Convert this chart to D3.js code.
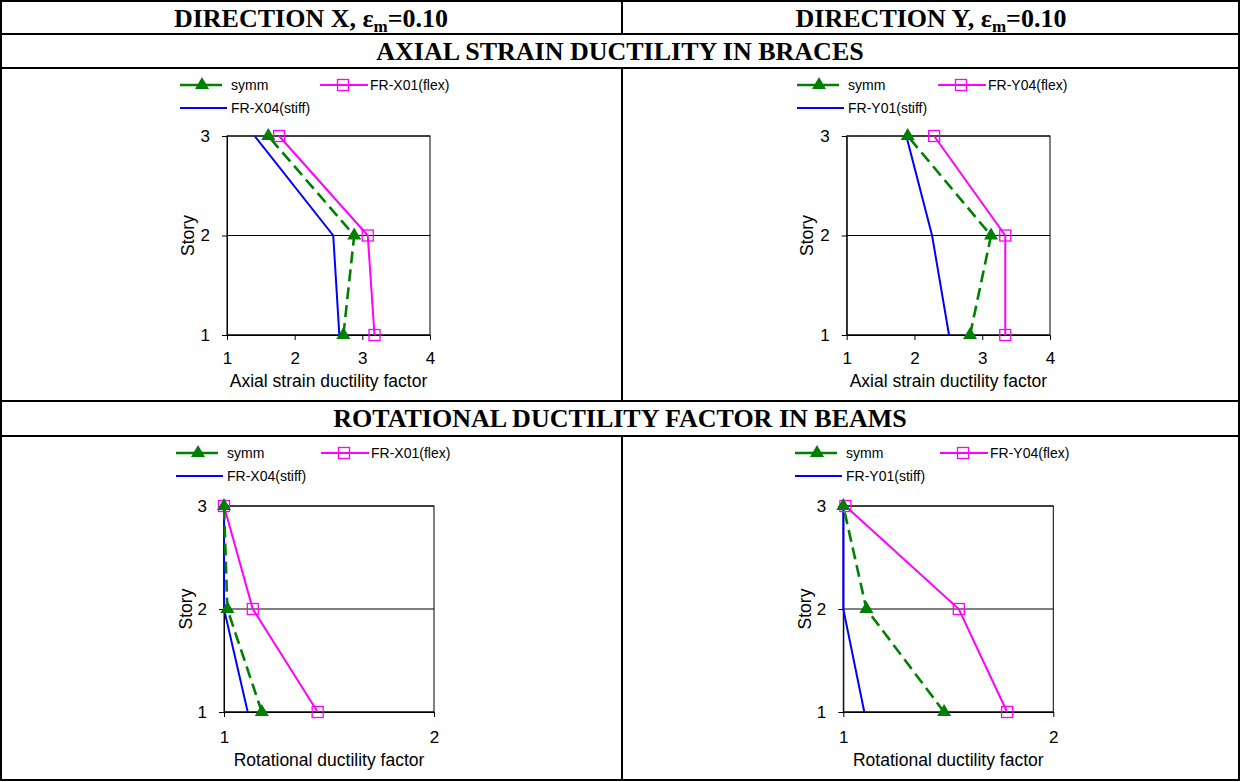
<!DOCTYPE html>
<html>
<head>
<meta charset="utf-8">
<script src="https://cdn.jsdelivr.net/npm/d3@7"></script>
<style>
  html, body { margin: 0; padding: 0; background: #fff; }
  svg { display: block; }
</style>
</head>
<body>
<svg id="chart" width="1241" height="782"></svg>
<script>
// ---------------- DATA ----------------
const stories = [1, 2, 3];
const storyTicks = [1, 2, 3];
const axialTicks = [1, 2, 3, 4];
const rotTicks = [1, 2];

const headerLeft = ["DIRECTION X, ε", "m", "=0.10"];
const headerRight = ["DIRECTION Y, ε", "m", "=0.10"];
const sectionTitles = ["AXIAL STRAIN DUCTILITY IN BRACES", "ROTATIONAL DUCTILITY FACTOR IN BEAMS"];
const xTitles = ["Axial strain ductility factor", "Rotational ductility factor"];
const yTitle = "Story";

const namesX = ["symm", "FR-X01(flex)", "FR-X04(stiff)"];
const namesY = ["symm", "FR-Y04(flex)", "FR-Y01(stiff)"];

// values for stories 1, 2, 3
const symmAxialX  = [2.72, 2.88, 1.61];
const flexAxialX  = [3.18, 3.08, 1.77];
const stiffAxialX = [2.66, 2.57, 1.41];

const symmAxialY  = [2.82, 3.13, 1.90];
const flexAxialY  = [3.34, 3.34, 2.29];
const stiffAxialY = [2.51, 2.26, 1.88];

const symmRotX  = [1.18, 1.016, 1.0];
const flexRotX  = [1.446, 1.137, 1.0];
const stiffRotX = [1.113, 1.0, 1.0];

const symmRotY  = [1.48, 1.11, 1.0];
const flexRotY  = [1.78, 1.55, 1.01];
const stiffRotY = [1.10, 1.0, 1.0];

// ---------------- LAYOUT ----------------
const svg = d3.select("#chart");
const colors = { symm: "#008000", flex: "#ff00ff", stiff: "#0000ff" };

const table = { left: 1, right: 1239, top: 1, bottom: 780, mid: 622,
  rows: [34, 68, 401, 436] };

// Table borders
const tg = svg.append("g").attr("stroke", "#000").attr("stroke-width", 2).attr("fill", "none");
tg.append("rect").attr("x", table.left).attr("y", table.top)
  .attr("width", table.right - table.left).attr("height", table.bottom - table.top);
table.rows.forEach(y => tg.append("line").attr("x1", table.left).attr("x2", table.right).attr("y1", y).attr("y2", y));
[[table.top, table.rows[0]], [table.rows[1], table.rows[2]], [table.rows[3], table.bottom]].forEach(([a, b]) =>
  tg.append("line").attr("x1", table.mid).attr("x2", table.mid).attr("y1", a).attr("y2", b));

// Headings
const serif = "'Liberation Serif', 'Times New Roman', serif";
function header(parts, cx, y) {
  const t = svg.append("text").attr("x", cx).attr("y", y).attr("text-anchor", "middle")
    .attr("font-family", serif).attr("font-weight", "bold").attr("font-size", 26);
  t.append("tspan").text(parts[0]);
  t.append("tspan").attr("font-size", 17).attr("dy", 5).text(parts[1]);
  t.append("tspan").attr("dy", -5).text(parts[2]);
}
header(headerLeft, 311, 27);
header(headerRight, 931, 27);
svg.append("text").attr("x", 620).attr("y", 60).attr("text-anchor", "middle")
  .attr("font-family", serif).attr("font-weight", "bold").attr("font-size", 26).text(sectionTitles[0]);
svg.append("text").attr("x", 620).attr("y", 427).attr("text-anchor", "middle")
  .attr("font-family", serif).attr("font-weight", "bold").attr("font-size", 26).text(sectionTitles[1]);

// ---------------- PANELS ----------------
const sans = "'Liberation Sans', Arial, sans-serif";
const panels = [
  { x0: 227, x1: 430, y0: 136, y1: 335, domain: [1, 4], ticks: axialTicks, title: xTitles[0], names: namesX,
    series: [stiffAxialX, flexAxialX, symmAxialX], leg: { x: 180, y: 85, x2: 320 }, tickDy: 26, titleDy: 46, storyX: 188 },
  { x0: 846.7, x1: 1050, y0: 136, y1: 335, domain: [1, 4], ticks: axialTicks, title: xTitles[0], names: namesY,
    series: [stiffAxialY, flexAxialY, symmAxialY], leg: { x: 797, y: 85, x2: 938 }, tickDy: 26, titleDy: 46, storyX: 807 },
  { x0: 224, x1: 434, y0: 506, y1: 712, domain: [1, 2], ticks: rotTicks, title: xTitles[1], names: namesX,
    series: [stiffRotX, flexRotX, symmRotX], leg: { x: 176, y: 453, x2: 321 }, tickDy: 28, titleDy: 48, storyX: 186 },
  { x0: 843.3, x1: 1053.3, y0: 506, y1: 712, domain: [1, 2], ticks: rotTicks, title: xTitles[1], names: namesY,
    series: [stiffRotY, flexRotY, symmRotY], leg: { x: 795, y: 453, x2: 940 }, tickDy: 28, titleDy: 48, storyX: 805 }
];

const triangle = d3.symbol().type(d3.symbolTriangle).size(85);

function drawMarker(g, kind, cx, cy) {
  if (kind === "symm") {
    g.append("path").attr("d", triangle()).attr("transform", `translate(${cx},${cy})`)
      .attr("fill", colors.symm);
  } else if (kind === "flex") {
    g.append("rect").attr("x", cx - 5.5).attr("y", cy - 5.5).attr("width", 11).attr("height", 11)
      .attr("fill", "none").attr("stroke", colors.flex).attr("stroke-width", 1.3);
  }
}

function lineStyle(sel, kind) {
  sel.attr("fill", "none").attr("stroke", colors[kind]).attr("stroke-width", 2);
  if (kind === "symm") sel.attr("stroke-dasharray", "12,6").attr("stroke-width", 2.6);
  return sel;
}

panels.forEach(p => {
  const g = svg.append("g");
  const x = d3.scaleLinear().domain(p.domain).range([p.x0, p.x1]);
  const y = d3.scaleLinear().domain([1, 3]).range([p.y1, p.y0]);

  // gridlines
  g.append("g").selectAll("line").data(storyTicks).join("line")
    .attr("x1", p.x0).attr("x2", p.x1).attr("y1", d => y(d)).attr("y2", d => y(d))
    .attr("stroke", "#000").attr("stroke-width", 1);

  // plot border
  g.append("rect").attr("x", p.x0).attr("y", p.y0).attr("width", p.x1 - p.x0).attr("height", p.y1 - p.y0)
    .attr("fill", "none").attr("stroke", "#000").attr("stroke-width", 1);

  // axes
  const xa = g.append("g").attr("transform", `translate(0,${p.y1})`)
    .call(d3.axisBottom(x).tickValues(p.ticks).tickFormat(d3.format("d")).tickSize(5).tickSizeOuter(0).tickPadding(p.tickDy - 14));
  const ya = g.append("g").attr("transform", `translate(${p.x0},0)`)
    .call(d3.axisLeft(y).tickValues(storyTicks).tickFormat(d3.format("d")).tickSize(5).tickSizeOuter(0).tickPadding(12));
  [xa, ya].forEach(a => {
    a.select(".domain").attr("stroke", "#000");
    a.selectAll(".tick line").attr("stroke", "#000");
    a.selectAll(".tick text").attr("font-family", sans).attr("font-size", 17).attr("fill", "#000");
  });

  // axis titles
  g.append("text").attr("x", (p.x0 + p.x1) / 2).attr("y", p.y1 + p.titleDy).attr("dy", "0.35em")
    .attr("text-anchor", "middle").attr("font-family", sans).attr("font-size", 17.5).text(p.title);
  g.append("text").attr("transform", `translate(${p.storyX},${y(2)}) rotate(-90)`).attr("dy", "0.35em")
    .attr("text-anchor", "middle").attr("font-family", sans).attr("font-size", 17.5).text(yTitle);

  // series
  const kinds = ["stiff", "flex", "symm"];
  const line = d3.line().x(d => x(d[0])).y(d => y(d[1]));
  p.series.forEach((vals, i) => {
    const kind = kinds[i];
    const pts = vals.map((v, j) => [v, stories[j]]);
    lineStyle(g.append("path").attr("d", line(pts)), kind);
    pts.forEach(d => drawMarker(g, kind, x(d[0]), y(d[1])));
  });

  // legend
  const L = p.leg;
  const lg = svg.append("g").attr("font-family", sans).attr("font-size", 14);
  lineStyle(lg.append("line").attr("x1", L.x).attr("x2", L.x + 42).attr("y1", L.y).attr("y2", L.y), "symm")
    .attr("stroke-dasharray", null);
  drawMarker(lg, "symm", L.x + 22, L.y);
  lg.append("text").attr("x", L.x + 51).attr("y", L.y).attr("dy", "0.35em").text(p.names[0]);
  lineStyle(lg.append("line").attr("x1", L.x2).attr("x2", L.x2 + 48).attr("y1", L.y).attr("y2", L.y), "flex");
  drawMarker(lg, "flex", L.x2 + 23, L.y);
  lg.append("text").attr("x", L.x2 + 50).attr("y", L.y).attr("dy", "0.35em").text(p.names[1]);
  lineStyle(lg.append("line").attr("x1", L.x).attr("x2", L.x + 47).attr("y1", L.y + 23).attr("y2", L.y + 23), "stiff");
  lg.append("text").attr("x", L.x + 51).attr("y", L.y + 23).attr("dy", "0.35em").text(p.names[2]);
});
</script>
</body>
</html>
